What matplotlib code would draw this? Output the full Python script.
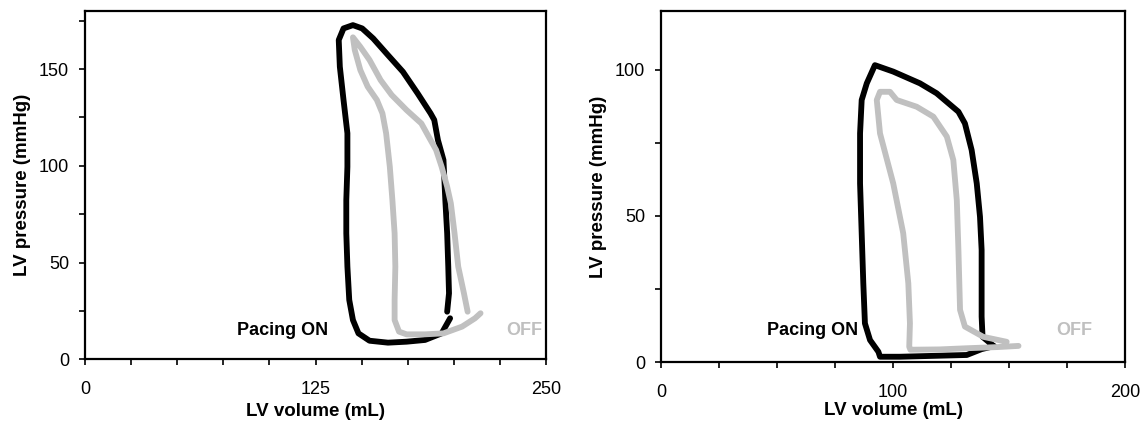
import numpy as np
import matplotlib.pyplot as plt
from matplotlib.ticker import MultipleLocator

plt.rcParams['font.family'] = ['Liberation Sans', 'DejaVu Sans']

# left panel, LV volume (mL) / LV pressure (mmHg)
left_on_vol = [198.0, 193.4, 184.4, 174.4, 164.3, 154.3, 148.3, 145.3, 143.3, 142.3, 141.7,
               141.7, 142.3, 142.3, 140.2, 138.2, 137.6, 140.2, 145.3, 150.3, 156.3, 164.3,
               172.4, 180.4, 187.4, 189.4, 191.4, 194.4, 195.4, 196.4, 197.0, 197.4, 196.4]
left_on_prs = [21.2, 13.4, 10.0, 9.1, 8.6, 9.6, 13.4, 20.3, 30.7, 47.9, 65.1,
               82.3, 99.5, 116.8, 134.0, 151.2, 165.0, 171.0, 172.7, 171.0, 165.8, 157.2,
               148.6, 137.4, 127.1, 123.7, 113.3, 103.0, 82.3, 65.1, 47.9, 34.1, 24.6]
left_off_vol = [207.5, 205.5, 202.4, 200.4, 198.4, 196.4, 193.4, 190.4, 186.4, 182.4, 174.4,
                166.3, 160.3, 154.3, 149.3, 145.3, 146.3, 149.3, 153.3, 158.3, 161.3, 163.3,
                165.3, 166.7, 167.9, 168.3, 167.9, 167.9, 170.3, 174.4, 184.4, 194.4, 204.5,
                211.5, 214.5]
left_off_prs = [24.6, 34.1, 47.9, 65.1, 80.6, 89.2, 99.5, 108.2, 115.0, 121.9, 128.8,
                136.6, 144.3, 154.7, 161.5, 166.4, 159.8, 149.5, 140.9, 134.0, 127.1, 116.8,
                99.5, 82.3, 65.1, 47.9, 30.7, 20.3, 14.3, 12.9, 12.9, 13.4, 16.9,
                21.2, 23.8]

# right panel
right_on_vol = [143.5, 138.6, 138.2, 138.2, 138.2, 137.5, 136.1, 133.9, 131.0, 128.2, 118.8,
                111.6, 100.1, 92.2, 88.7, 86.5, 85.8, 85.8, 86.5, 87.2, 87.9, 90.1,
                93.7, 94.4, 103.0, 117.4, 131.8, 138.2, 143.5]
right_on_prs = [5.5, 8.7, 15.6, 27.0, 38.4, 49.7, 61.1, 72.5, 81.6, 85.6, 91.9,
                95.3, 99.3, 101.5, 95.3, 89.6, 78.2, 61.1, 44.1, 27.0, 13.3, 7.6,
                3.6, 1.9, 1.9, 2.2, 2.5, 4.5, 5.5]
right_off_vol = [149.0, 138.9, 131.0, 128.9, 128.2, 127.5, 126.0, 123.2, 117.4, 110.2, 101.6,
                 98.7, 94.4, 93.0, 94.4, 100.1, 104.4, 106.6, 107.3, 107.0, 107.5, 120.0,
                 131.8, 145.0, 154.1]
right_off_prs = [7.0, 8.7, 12.2, 17.9, 38.4, 55.4, 69.1, 77.1, 83.9, 87.3, 89.6,
                 92.4, 92.4, 89.6, 78.2, 61.1, 44.1, 27.0, 13.3, 5.3, 4.3, 4.4,
                 4.8, 5.2, 5.6]

GRAY = '#c0c0c0'
FS = 13

fig = plt.figure(figsize=(11.46, 4.24), dpi=100)
ax1 = fig.add_axes([85 / 1146, 64.7 / 424, 461 / 1146, 348.3 / 424])
ax2 = fig.add_axes([661 / 1146, 61.7 / 424, 464 / 1146, 351.3 / 424])

panels = [
    (ax1, left_on_vol, left_on_prs, left_off_vol, left_off_prs, 250, 180, 125, 50,
     (132, 15), (248, 15), -0.118, -0.126),
    (ax2, right_on_vol, right_on_prs, right_off_vol, right_off_prs, 200, 120, 100, 50,
     (85, 11), (186, 11), -0.117, -0.112),
]

for ax, onv, onp, offv, offp, xmax, ymax, xmaj, ymaj, on_xy, off_xy, ylx, xly in panels:
    ax.plot(onv, onp, color='black', lw=4.2, solid_capstyle='round', solid_joinstyle='round')
    ax.plot(offv, offp, color=GRAY, lw=4.2, solid_capstyle='round', solid_joinstyle='round')
    ax.set_xlim(0, xmax)
    ax.set_ylim(0, ymax)
    ax.xaxis.set_major_locator(MultipleLocator(xmaj))
    ax.xaxis.set_minor_locator(MultipleLocator(25))
    ax.yaxis.set_major_locator(MultipleLocator(ymaj))
    ax.yaxis.set_minor_locator(MultipleLocator(25))
    ax.tick_params(which='both', direction='out', length=4.5, width=1.2, labelsize=FS, pad=7)
    ax.tick_params(axis='x', which='both', pad=11)
    for s in ax.spines.values():
        s.set_linewidth(1.6)
    ax.set_xlabel('LV volume (mL)', fontsize=13.5, fontweight='bold')
    ax.set_ylabel('LV pressure (mmHg)', fontsize=13.5, fontweight='bold')
    ax.xaxis.set_label_coords(0.5, xly)
    ax.yaxis.set_label_coords(ylx, 0.5)
    ax.text(on_xy[0], on_xy[1], 'Pacing ON', ha='right', va='center', fontsize=FS, fontweight='bold', color='black')
    ax.text(off_xy[0], off_xy[1], 'OFF', ha='right', va='center', fontsize=FS, fontweight='bold', color=GRAY)

fig.savefig('out.png', dpi=100)
